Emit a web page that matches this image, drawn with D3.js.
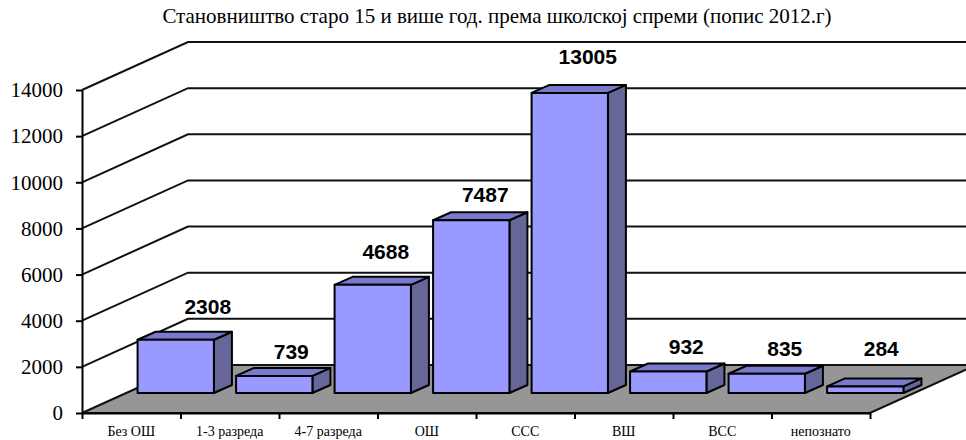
<!DOCTYPE html>
<html><head><meta charset="utf-8">
<script src="https://cdn.jsdelivr.net/npm/d3@7"></script>
<style>html,body{margin:0;background:#fff}svg{display:block}</style>
</head><body><svg id="c" width="966" height="440"></svg>
<script>
const categories = ["Без ОШ","1-3 разреда","4-7 разреда","ОШ","ССС","ВШ","ВСС","непознато"];
const values = [2308,739,4688,7487,13005,932,835,284];
const yTicks = [0,2000,4000,6000,8000,10000,12000,14000];
const titleText = "Становништво старо 15 и више год. према школској спреми (попис 2012.г)";

const W=966,H=440,left=82,right=870,base=413,top14=90;
const backDx=106,backDy=-48;          // wall depth
const barShiftX=44.5,barShiftY=-20;   // bars sit inside the floor
const barDx=18,barDy=-8;              // bar depth
const serif='"Liberation Serif","Times New Roman",serif', sans='"Liberation Sans",Arial,sans-serif';
const svg=d3.select("#c");

const y=d3.scaleLinear().domain([0,14000]).range([base,top14]);
const x=d3.scaleBand().domain(categories).range([left,right]).paddingInner(0.225).paddingOuter(0.1125);
const xTickScale=d3.scaleLinear().domain([0,categories.length]).range([left,right]);
const line=d3.line();

svg.append("text").attr("x",497).attr("y",23).attr("text-anchor","middle")
  .attr("font-family",serif).attr("font-size",21).attr("fill","#000").text(titleText);

// floor
svg.append("path").attr("fill","#969696").attr("stroke","#111").attr("stroke-width",2)
  .attr("d",line([[left,base],[left+backDx,base+backDy],[right+backDx,base+backDy],[right,base]])+"Z");

// gridlines: side wall then back wall
svg.append("g").selectAll("path").data(yTicks.slice(1)).join("path")
  .attr("fill","none").attr("stroke","#111").attr("stroke-width",2)
  .attr("d",d=>line([[left,y(d)],[left+backDx,y(d)+backDy],[W,y(d)+backDy]]));

// bars
const bars=svg.append("g").selectAll("g").data(values).join("g")
  .attr("stroke","#000").attr("stroke-width",2).attr("stroke-linejoin","round");
const X0=(d,i)=>x(categories[i])+barShiftX, X1=(d,i)=>X0(d,i)+x.bandwidth();
const Yb=base+barShiftY, Yt=d=>y(d)+barShiftY;
bars.append("path").attr("fill","#666699").attr("d",(d,i)=>line([[X1(d,i),Yt(d)],[X1(d,i)+barDx,Yt(d)+barDy],[X1(d,i)+barDx,Yb+barDy],[X1(d,i),Yb]])+"Z");
bars.append("path").attr("fill","#7A7ACC").attr("d",(d,i)=>line([[X0(d,i),Yt(d)],[X0(d,i)+barDx,Yt(d)+barDy],[X1(d,i)+barDx,Yt(d)+barDy],[X1(d,i),Yt(d)]])+"Z");
bars.append("rect").attr("fill","#9999FF").attr("x",X0).attr("width",x.bandwidth()).attr("y",Yt).attr("height",d=>Yb-Yt(d));

// value labels (hand-placed in the reference: offsets from each bar's centre top)
const labelNudge=[[32,-25],[17,-16],[13,-25],[14,-17],[18,-28],[18,-16],[18,-17],[16,-29]];
svg.append("g").selectAll("text").data(values).join("text")
  .attr("text-anchor","middle").attr("font-family",sans).attr("font-weight","bold").attr("font-size",21).attr("fill","#000")
  .attr("x",(d,i)=>(X0(d,i)+X1(d,i))/2+barDx/2+labelNudge[i][0]-9)
  .attr("y",(d,i)=>Yt(d)+barDy+labelNudge[i][1]+7)
  .text(d=>d);

// axes
const yAxis=svg.append("g").attr("transform",`translate(${left},0)`)
  .call(d3.axisLeft(y).tickValues(yTicks).tickFormat(d=>d).tickSize(6).tickSizeOuter(0));
yAxis.selectAll("path,line").attr("stroke","#000").attr("stroke-width",2);
yAxis.selectAll("text").style("font-family",serif).style("font-size","21px").attr("fill","#000").attr("x",-19);

const xAxis=svg.append("g").attr("transform",`translate(0,${base})`)
  .call(d3.axisBottom(xTickScale).ticks(categories.length).tickFormat("").tickSize(6).tickSizeOuter(0));
xAxis.selectAll("path,line").attr("stroke","#000").attr("stroke-width",2);
svg.append("g").selectAll("text").data(categories).join("text")
  .attr("text-anchor","middle").attr("font-family",serif).attr("font-size",14).attr("fill","#000")
  .attr("x",d=>x(d)+x.bandwidth()/2).attr("y",436).text(d=>d);
</script></body></html>
